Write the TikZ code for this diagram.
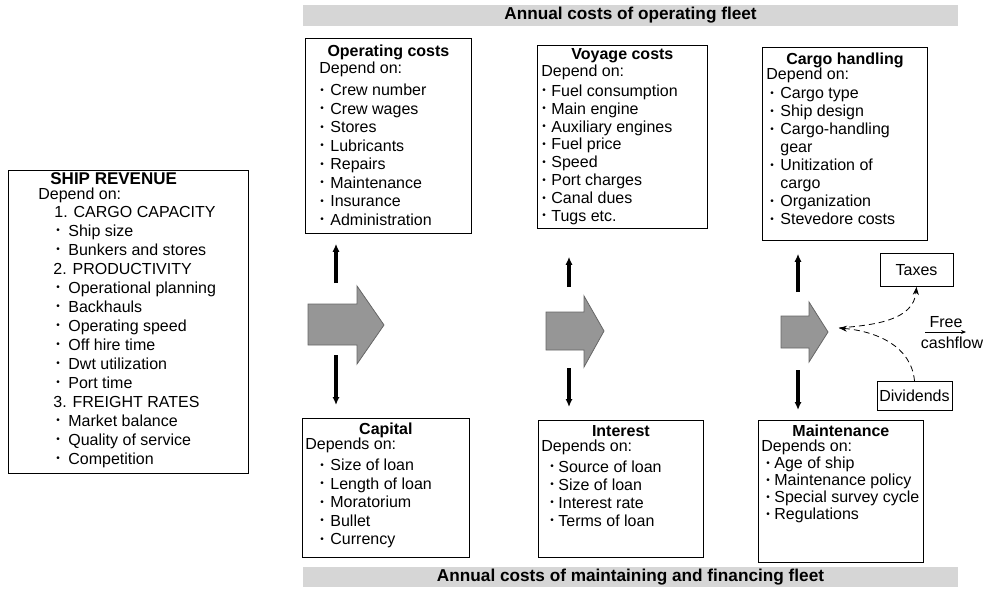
\documentclass[tikz,border=0pt]{standalone}
\usepackage{fontspec}
\setmainfont{Liberation Sans}
\usetikzlibrary{arrows.meta,positioning}
\definecolor{bandgray}{RGB}{214,214,214}
\definecolor{flowgray}{RGB}{150,150,150}

\newlength\bulind
\newlength\bulwd
\setlength\bulind{1pt}
\setlength\bulwd{5pt}
% bullet line and its continuation
\newcommand{\bul}[1]{\par\hspace*{\bulind}\makebox[\bulwd][l]{\raisebox{0.3ex}{\fontsize{5}{5}\selectfont\textbullet}}#1}
\newcommand{\cont}[1]{\par\hspace*{\bulind}\hspace*{\bulwd}#1}
\newcommand{\boxhead}[1]{{\centering\bfseries #1\par}}

\tikzset{
  depbox/.style={draw, thin, anchor=north west, inner ysep=2pt},
  band/.style={fill=bandgray, inner sep=0pt, font=\fontsize{8.6}{10}\selectfont\bfseries},
  flow/.style={fill=flowgray, draw=gray!80!black, thin},
  vlink/.style={line width=1.8pt, -{Latex[length=4pt,width=3.6pt]}},
  cashlink/.style={densely dashed, thin, -{Stealth[length=4pt,width=3pt]}},
  small/.style={draw, thin, inner sep=0pt, font=\fontsize{8}{9}\selectfont}
}

\begin{document}
\begin{tikzpicture}[x=0.5pt,y=-0.5pt,font=\fontsize{8}{9.25}\selectfont]
\useasboundingbox (0,0) rectangle (983,589);

% Banners
\node[band, minimum width=327.5pt, minimum height=10.5pt] (topband) at (630.5,15.5) {Annual costs of operating fleet};
\node[band, minimum width=327.5pt, minimum height=10pt] (botband) at (630.5,577) {Annual costs of maintaining and financing fleet};

% Revenue side
\node[depbox, inner xsep=15pt, inner ysep=1pt, font=\fontsize{8}{9.5}\selectfont] (rev) at (8,170) {%
\begin{minipage}[t][149.5pt][t]{90pt}\setlength\bulind{9pt}\setlength\bulwd{6pt}%
\hspace*{6pt}{\fontsize{8.5}{9.5}\selectfont\bfseries SHIP REVENUE}\par\vspace{-2pt}
Depend on:\par\vspace{-0.5pt}
\hspace*{8pt}1. CARGO CAPACITY
\bul{Ship size}
\bul{Bunkers and stores}
\par\hspace*{7.5pt}2. PRODUCTIVITY
\bul{Operational planning}
\bul{Backhauls}
\bul{Operating speed}
\bul{Off hire time}
\bul{Dwt utilization}
\bul{Port time}
\par\hspace*{7.5pt}3. FREIGHT RATES
\bul{Market balance}
\bul{Quality of service}
\bul{Competition}
\end{minipage}};

% Operating fleet
\node[depbox, inner xsep=7pt, inner ysep=3.5pt] (opc) at (305,38) {%
\begin{minipage}[t][90.5pt][t]{69pt}\setlength\bulind{0.5pt}%
\boxhead{Operating costs}\vspace{-0.75pt}
Depend on:\par\vspace{1.75pt}
\bul{Crew number}
\bul{Crew wages}
\bul{Stores}
\bul{Lubricants}
\bul{Repairs}
\bul{Maintenance}
\bul{Insurance}
\bul{Administration}
\end{minipage}};

\node[depbox, inner xsep=2pt, inner ysep=1.5pt, font=\fontsize{8}{8.95}\selectfont] (voy) at (537,45) {%
\begin{minipage}[t][88.5pt][t]{81pt}\setlength\bulind{0.5pt}\setlength\bulwd{4.5pt}%
\boxhead{Voyage costs}\vspace{-0.5pt}
Depend on:\par\vspace{1pt}
\bul{Fuel consumption}
\bul{Main engine}
\bul{Auxiliary engines}
\bul{Fuel price}
\bul{Speed}
\bul{Port charges}
\bul{Canal dues}
\bul{Tugs etc.}
\end{minipage}};

\node[depbox, inner xsep=2pt, inner ysep=3pt, font=\fontsize{8}{9}\selectfont] (cgo) at (762,47) {%
\begin{minipage}[t][90.5pt][t]{78.5pt}\setlength\bulind{2pt}%
\boxhead{Cargo handling}\vspace{-1.5pt}
Depend on:\par\vspace{0.5pt}
\bul{Cargo type}
\bul{Ship design}
\bul{Cargo-handling}
\cont{gear}
\bul{Unitization of}
\cont{cargo}
\bul{Organization}
\bul{Stevedore costs}
\end{minipage}};

% Maintaining and financing fleet
\node[depbox, inner xsep=1.5pt, inner ysep=2.3pt] (cap) at (302,418) {%
\begin{minipage}[t][64.9pt][t]{80.5pt}\setlength\bulind{7.5pt}%
\boxhead{Capital}\vspace{-1.75pt}
Depends on:\par\vspace{1.25pt}
\bul{Size of loan}
\bul{Length of loan}
\bul{Moratorium}
\bul{Bullet}
\bul{Currency}
\end{minipage}};

\node[depbox, inner xsep=1.5pt, inner ysep=2.3pt, font=\fontsize{8}{9}\selectfont] (int) at (538,420) {%
\begin{minipage}[t][63.9pt][t]{79.5pt}\setlength\bulind{4.5pt}\setlength\bulwd{4pt}%
\boxhead{Interest}\vspace{-1.5pt}
Depends on:\par\vspace{1.5pt}
\bul{Source of loan}
\bul{Size of loan}
\bul{Interest rate}
\bul{Terms of loan}
\end{minipage}};

\node[depbox, inner xsep=1.5pt, inner ysep=2.3pt, font=\fontsize{8}{8.5}\selectfont] (mnt) at (758,420) {%
\begin{minipage}[t][66.4pt][t]{79.5pt}\setlength\bulind{2.5pt}\setlength\bulwd{4pt}%
\boxhead{Maintenance}\vspace{-1pt}
Depends on:\par\vspace{0pt}
\bul{Age of ship}
\bul{Maintenance policy}
\bul{Special survey cycle}
\bul{Regulations}
\end{minipage}};

% Big flow arrows
\filldraw[flow] (308,304) -- (357,304) -- (357,286) -- (384,325) -- (357,364) -- (357,345) -- (308,345) -- cycle;
\filldraw[flow] (546,312) -- (584,312) -- (584,296) -- (604,331) -- (584,367) -- (584,350) -- (546,350) -- cycle;
\filldraw[flow] (781,316) -- (809,316) -- (809,302) -- (828,332) -- (809,362) -- (809,348) -- (781,348) -- cycle;

% Vertical links
\coordinate (up1) at (336,283);
\coordinate (up2) at (569,287);
\coordinate (up3) at (798,292);
\coordinate (dn1) at (336,355);
\coordinate (dn2) at (569,368);
\coordinate (dn3) at (798,370);
\draw[vlink, shorten >=5pt] (up1) -- (opc.south -| up1);
\draw[vlink, shorten >=14pt] (up2) -- (voy.south -| up2);
\draw[vlink, shorten >=6.5pt] (up3) -- (cgo.south -| up3);
\draw[vlink, shorten >=6.5pt] (dn1) -- (cap.north -| dn1);
\draw[vlink, shorten >=6.5pt] (dn2) -- (int.north -| dn2);
\draw[vlink, shorten >=5pt] (dn3) -- (mnt.north -| dn3);

% Cash split
\node[small, minimum width=36.5pt, minimum height=16.5pt] (tax) at (916.5,270) {Taxes};
\node[small, minimum width=37.5pt, minimum height=14.5pt] (div) at (914.5,396) {Dividends};
\coordinate (split) at (839,328);
\draw[cashlink] (split) to[out=5, in=-95] (tax.south);
\draw[cashlink] (div.north) to[out=95, in=-5] (split);

\node[font=\fontsize{8}{9}\selectfont, inner sep=0pt] (free) at (946,322) {Free};
\node[font=\fontsize{8}{9}\selectfont, inner sep=0pt] (cash) at (952,343) {cashflow};
\coordinate (fcl) at (925,332);
\coordinate (fcr) at (966,332);
\draw[thin, -{Stealth[length=2.5pt,width=2pt]}] (fcl) -- (fcr);
\end{tikzpicture}
\end{document}
